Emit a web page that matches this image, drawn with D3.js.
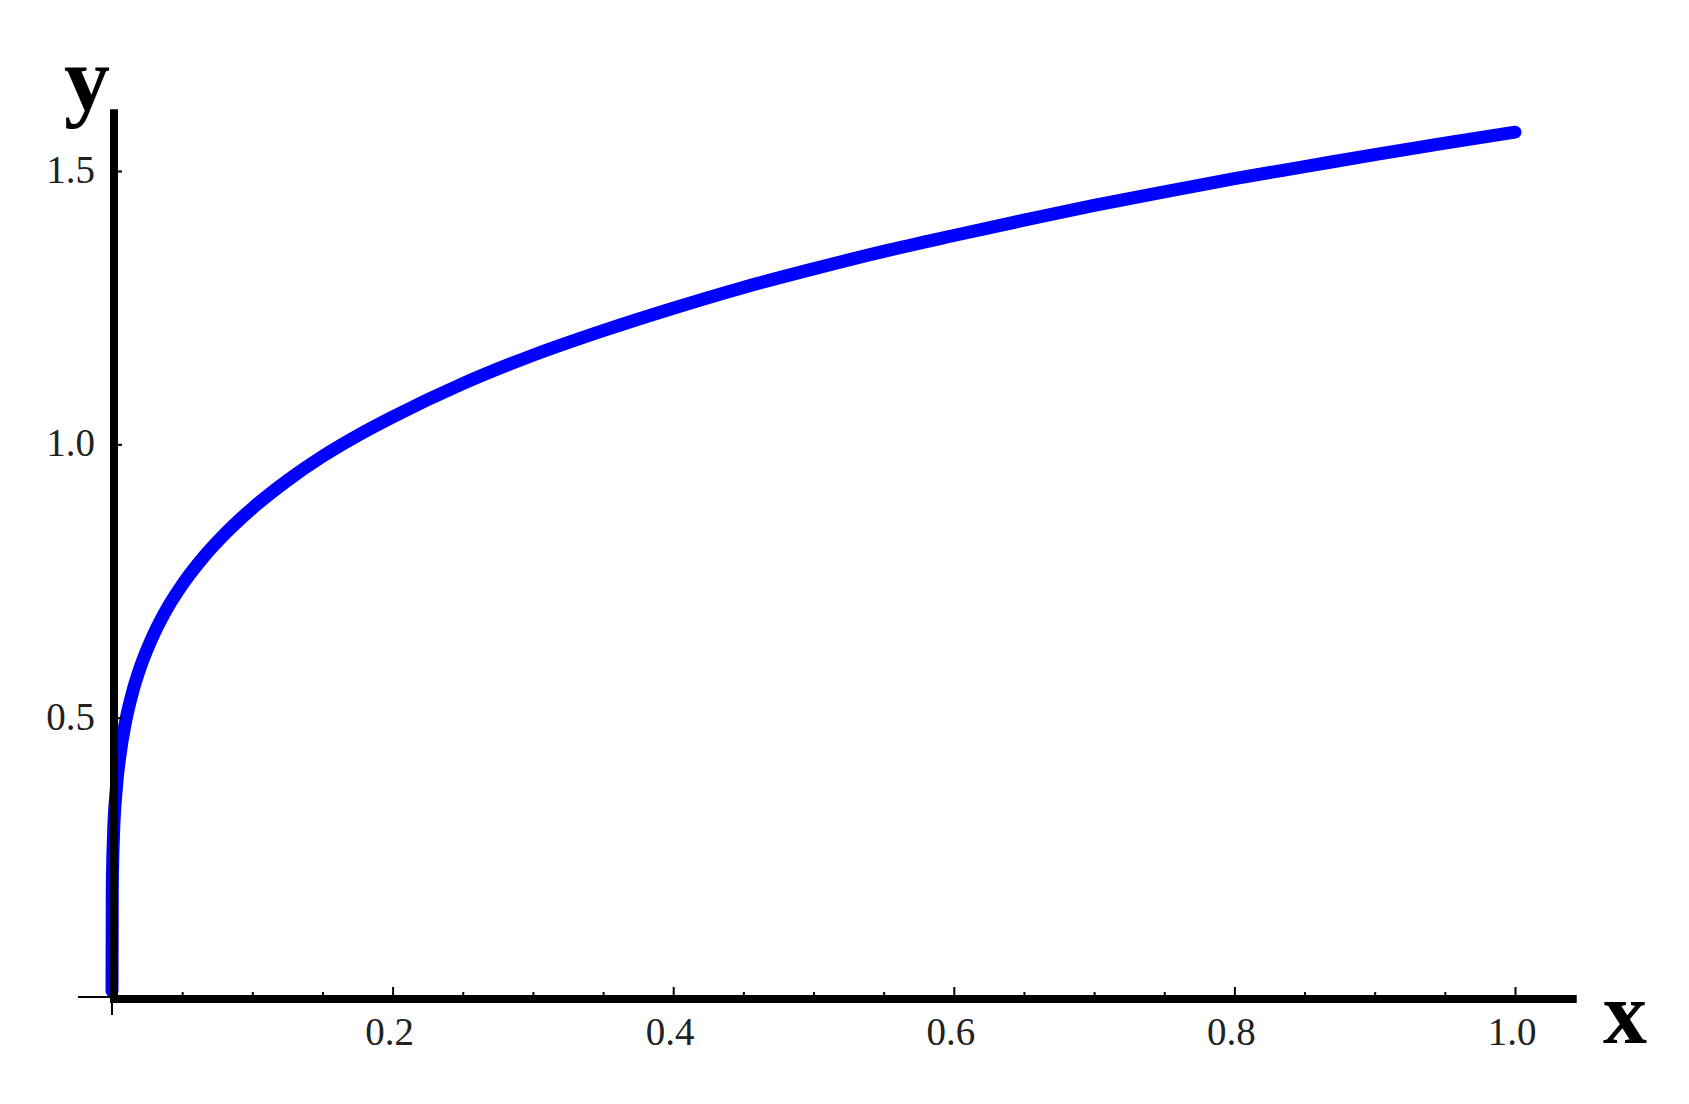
<html>
<head>
  <script src="https://d3js.org/d3.v7.min.js"></script>
  <style>
  body { margin: 0; background: #fff; }
  text { font-family: "Liberation Serif", "DejaVu Serif", serif; }
  </style>
</head>
<body>
  <svg width="1689" height="1104"></svg>

<script>
// curve values
var xValues = [0, 0.0002, 0.001, 0.003, 0.006, 0.01, 0.015, 0.02, 0.03, 0.04, 0.05, 0.065, 0.08, 0.1,
  0.125, 0.15, 0.175, 0.2, 0.25, 0.3, 0.35, 0.4, 0.45, 0.5, 0.55, 0.6, 0.65, 0.7, 0.75, 0.8, 0.85, 0.9, 0.95, 1.0];
var yValues = [0, 0.187, 0.279, 0.368, 0.437, 0.497, 0.550, 0.591, 0.654, 0.703, 0.743, 0.793, 0.835, 0.883,
  0.934, 0.978, 1.016, 1.050, 1.111, 1.163, 1.208, 1.249, 1.287, 1.321, 1.353, 1.382, 1.410, 1.437, 1.462, 1.486, 1.508, 1.530, 1.551, 1.571];

var xMajorTicks = [0.2, 0.4, 0.6, 0.8, 1.0];
var xTickLabels = ["0.2", "0.4", "0.6", "0.8", "1.0"];
var xMinorTicks = [0.05, 0.1, 0.15, 0.25, 0.3, 0.35, 0.45, 0.5, 0.55, 0.65, 0.7, 0.75, 0.85, 0.9, 0.95];
var yMajorTicks = [0.5, 1.0, 1.5];
var yTickLabels = ["0.5", "1.0", "1.5"];

var svg = d3.select("svg");
var x = d3.scaleLinear().domain([0, 1]).range([112, 1515]);
var y = d3.scaleLinear().domain([0, 1.5]).range([991, 171]);

var axisX = x(0) + 2;   // vertical axis position
var axisY = y(0) + 8;   // horizontal axis position

var pts = xValues.map(function(d, i){ return [d, yValues[i]]; });

var line = d3.line()
  .x(function(d){ return x(d[0]); })
  .y(function(d){ return y(d[1]); })
  .curve(d3.curveMonotoneX);

svg.append("path")
  .datum(pts)
  .attr("d", line)
  .attr("fill", "none")
  .attr("stroke", "#0000ff")
  .attr("stroke-width", 13)
  .attr("stroke-linecap", "round")
  .attr("stroke-linejoin", "round");

// x ticks (pointing up)
var gx = svg.append("g").attr("transform", "translate(0," + axisY + ")")
  .call(d3.axisTop(x).tickValues(xMajorTicks).tickSize(12).tickFormat(""));
var gxm = svg.append("g").attr("transform", "translate(0," + axisY + ")")
  .call(d3.axisTop(x).tickValues(xMinorTicks).tickSize(7).tickFormat(""));
var gy = svg.append("g").attr("transform", "translate(" + axisX + ",0)")
  .call(d3.axisRight(y).tickValues(yMajorTicks).tickSize(8).tickFormat(""));

[gx, gxm, gy].forEach(function(g){
  g.select(".domain").remove();
  g.selectAll(".tick line").attr("stroke", "#000").attr("stroke-width", 2);
});

// origin ticks
svg.append("line")
  .attr("x1", x(0)).attr("x2", x(0))
  .attr("y1", axisY).attr("y2", axisY + 16)
  .attr("stroke", "#000").attr("stroke-width", 2);
svg.append("line")
  .attr("x1", axisX - 36).attr("x2", axisX)
  .attr("y1", axisY - 2).attr("y2", axisY - 2)
  .attr("stroke", "#000").attr("stroke-width", 2);

// main axis lines
svg.append("line")
  .attr("x1", axisX - 4).attr("x2", x(1.044))
  .attr("y1", axisY).attr("y2", axisY)
  .attr("stroke", "#000").attr("stroke-width", 8);
svg.append("line")
  .attr("x1", axisX).attr("x2", axisX)
  .attr("y1", axisY + 4).attr("y2", y(1.613))
  .attr("stroke", "#000").attr("stroke-width", 8);

// tick labels
svg.selectAll("text.xlab").data(xMajorTicks).enter().append("text")
  .attr("class", "xlab")
  .attr("x", function(d){ return x(d) - 3; })
  .attr("y", axisY + 46)
  .attr("text-anchor", "middle")
  .attr("font-size", 39)
  .attr("fill", "#222")
  .text(function(d, i){ return xTickLabels[i]; });

svg.selectAll("text.ylab").data(yMajorTicks).enter().append("text")
  .attr("class", "ylab")
  .attr("x", axisX - 19)
  .attr("y", function(d){ return y(d) + 12; })
  .attr("text-anchor", "end")
  .attr("font-size", 39)
  .attr("fill", "#222")
  .text(function(d, i){ return yTickLabels[i]; });

// axis names
svg.append("text")
  .attr("x", 87).attr("y", 110)
  .attr("text-anchor", "middle")
  .attr("font-size", 92).attr("font-weight", "bold")
  .text("y");
svg.append("text")
  .attr("x", 1603).attr("y", 1043)
  .attr("font-size", 88).attr("font-weight", "bold")
  .text("x");
</script>
</body></html>
